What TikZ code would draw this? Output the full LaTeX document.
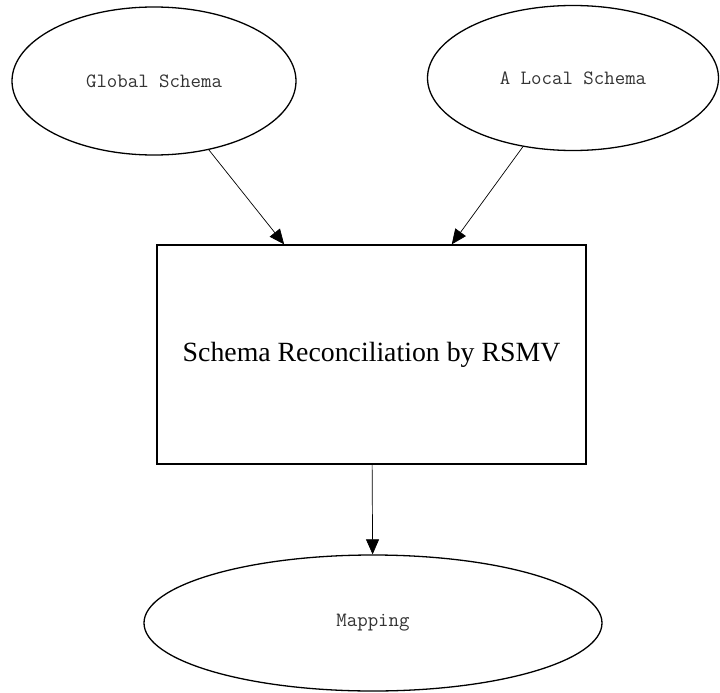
\documentclass[tikz,border=0pt]{standalone}
\usepackage{fontspec}
\usetikzlibrary{shapes.geometric,arrows.meta}
\newfontfamily\serfnt{Liberation Serif}

\begin{document}
\begin{tikzpicture}[x=1pt,y=-1pt,
  oval/.style={draw, ellipse, line width=1.3pt, inner sep=0pt, text=black!80,
    font=\ttfamily\fontsize{20.3}{24}\selectfont},
  box/.style={draw, rectangle, line width=1.3pt, inner sep=0pt,
    minimum width=429pt, minimum height=219pt,
    font=\serfnt\fontsize{27.8}{32}\selectfont},
  link/.style={line width=0.7pt, -{Triangle[length=15pt,width=13pt]}}]
\useasboundingbox (0,0) rectangle (720,693);
\node[oval, minimum width=284pt, minimum height=148pt] (gs) at (154,81) {Global Schema};
\node[oval, minimum width=291pt, minimum height=145pt] (ls) at (573,78) {A Local Schema};
\node[box] (rec) at (371.5,354.5) {Schema Reconciliation by RSMV};
\node[oval, minimum width=458pt, minimum height=136pt] (map) at (373,623) {Mapping};
%\draw (rec.south) -- (map.north);
\draw[link] (gs) -- (rec);
\draw[link] (ls) -- (rec);
\draw[link] (rec) -- (map);
\end{tikzpicture}
\end{document}
